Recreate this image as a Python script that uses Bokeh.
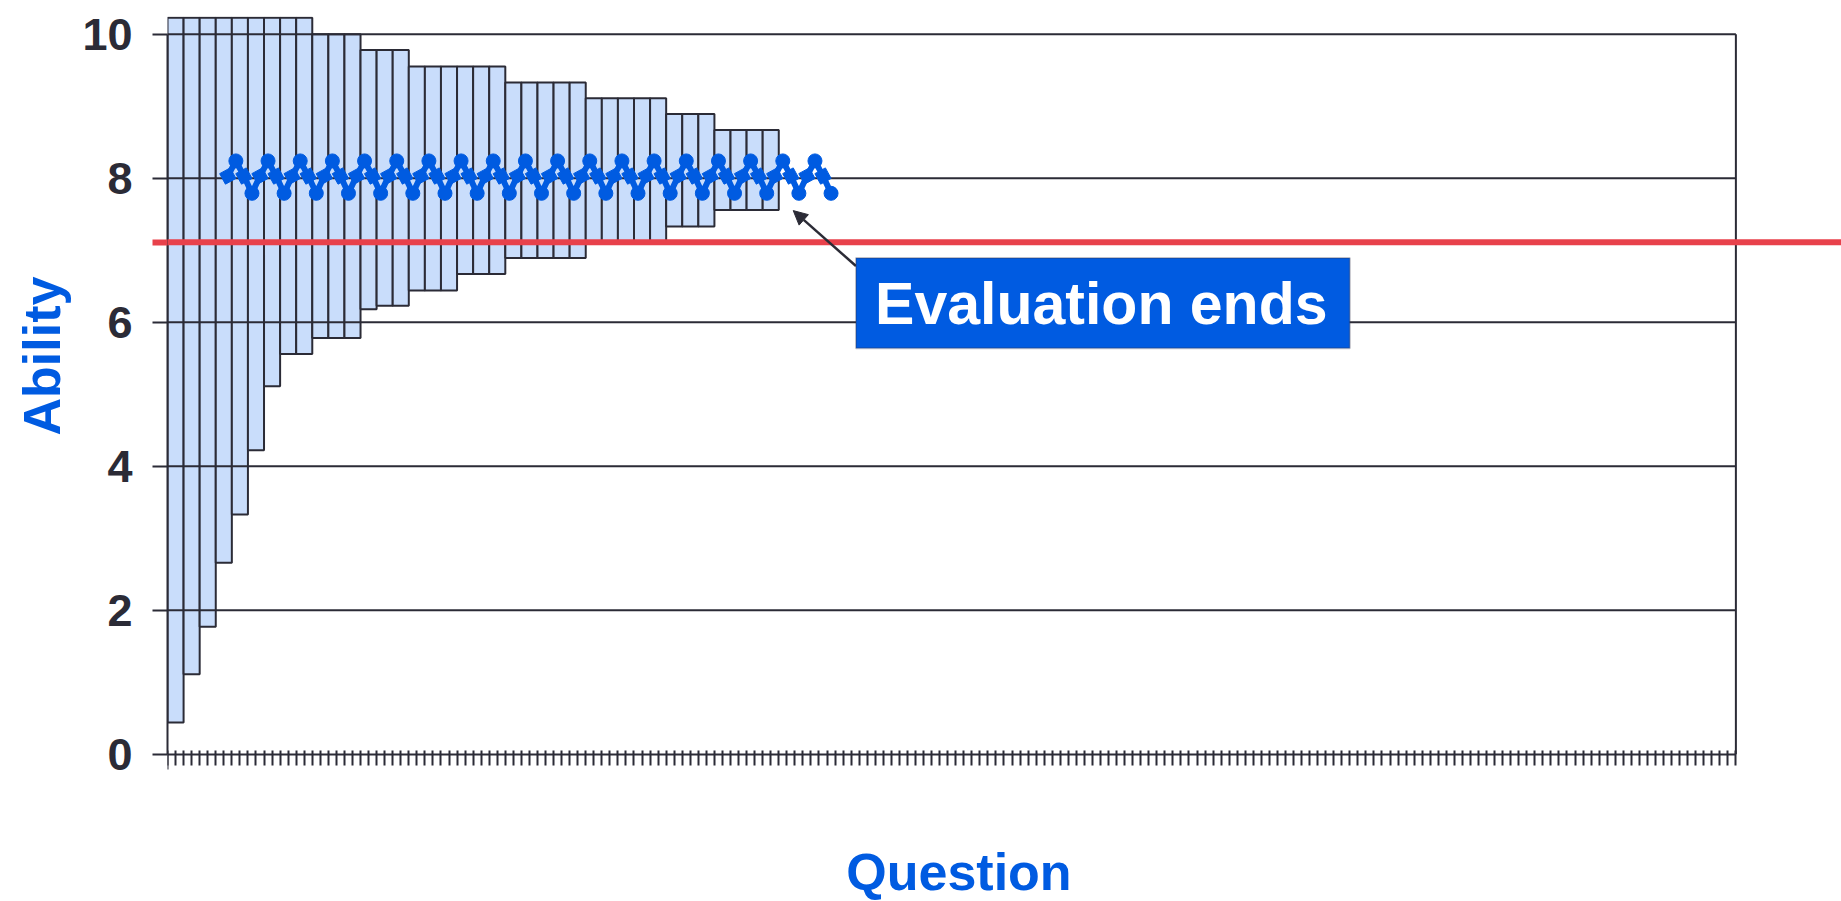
from bokeh.plotting import figure
from bokeh.models import (Range1d, FixedTicker, Span, Arrow, NormalHead, Title,
                          BoxAnnotation, Label, CustomJSTickFormatter, ColumnDataSource)
from bokeh.embed import file_html
from bokeh.resources import INLINE

# ---------------- data ----------------
n_ticks = 195                      # question tick marks on the x axis
y_ticks = [0, 2, 4, 6, 8, 10]
pass_mark = 7.11                   # red threshold line

# ability interval (lower / upper bound) after each question
bar_bottom = [0.44, 1.11, 1.77, 2.66, 3.33, 4.22, 5.11, 5.56, 5.56,
              5.78, 5.78, 5.78, 6.18, 6.23, 6.23, 6.44, 6.44, 6.44,
              6.67, 6.67, 6.67, 6.89, 6.89, 6.89, 6.89, 6.89,
              7.11, 7.11, 7.11, 7.11, 7.11, 7.33, 7.33, 7.33,
              7.56, 7.56, 7.56, 7.56]
bar_top = [10.23, 10.23, 10.23, 10.23, 10.23, 10.23, 10.23, 10.23, 10.23,
           10.0, 10.0, 10.0, 9.78, 9.78, 9.78, 9.55, 9.55, 9.55,
           9.55, 9.55, 9.55, 9.33, 9.33, 9.33, 9.33, 9.33,
           9.11, 9.11, 9.11, 9.11, 9.11, 8.89, 8.89, 8.89,
           8.67, 8.67, 8.67, 8.67]

# estimated ability per question (starting at question 7)
line_start = 7
line_values = [8.03, 8.24, 8.03, 7.79, 8.03, 8.24, 8.03, 7.79,
               8.03, 8.24, 8.03, 7.79, 8.03, 8.24, 8.03, 7.79,
               8.03, 8.24, 8.03, 7.79, 8.03, 8.24, 8.03, 7.79,
               8.03, 8.24, 8.03, 7.79, 8.03, 8.24, 8.03, 7.79,
               8.03, 8.24, 8.03, 7.79, 8.03, 8.24, 8.03, 7.79,
               8.03, 8.24, 8.03, 7.79, 8.03, 8.24, 8.03, 7.79,
               8.03, 8.24, 8.03, 7.79, 8.03, 8.24, 8.03, 7.79,
               8.03, 8.24, 8.03, 7.79, 8.03, 8.24, 8.03, 7.79,
               8.03, 8.24, 8.03, 7.79, 8.03, 8.24, 8.03, 7.79,
               8.03, 8.24, 8.03, 7.79]

# ---------------- styles ----------------
DARK = "#2B2B36"
BLUE = "#005BE1"
BAR_FILL = "#C9DDFB"
RED = "#E8414B"
FONT = "Liberation Sans"

bar_w = 2
bars = ColumnDataSource(dict(
    left=[i * bar_w for i in range(len(bar_top))],
    right=[(i + 1) * bar_w for i in range(len(bar_top))],
    bottom=bar_bottom, top=bar_top))

line_x = [line_start + i + 0.5 for i in range(len(line_values))]
mid_x = [x for i, x in enumerate(line_x) if i % 2 == 0]
mid_y = [v for i, v in enumerate(line_values) if i % 2 == 0]
ext_x = [x for i, x in enumerate(line_x) if i % 2 == 1]
ext_y = [v for i, v in enumerate(line_values) if i % 2 == 1]

W, H = 1841, 901
LEFT, TOP = 167, 16
unit_x, unit_y = 8.043, 72.0
zero_y = 753.7                       # canvas row of ability 0
p = figure(width=W, height=H, output_backend="svg", toolbar_location=None,
           x_axis_location="above",
           x_range=Range1d(0, (W - LEFT) / unit_x),
           y_range=Range1d(-(H - zero_y) / unit_y, (zero_y - TOP) / unit_y),
           min_border_left=LEFT, min_border_right=0, min_border_top=TOP,
           min_border_bottom=0)
p.outline_line_color = None
p.xgrid.visible = False
p.ygrid.visible = False
p.background_fill_color = "white"

# x axis, fixed at ability 0
xa = p.xaxis[0]
xa.fixed_location = 0
xa.ticker = FixedTicker(ticks=list(range(0, n_ticks + 1)), minor_ticks=[0])
xa.bounds = (0, n_ticks)
xa.major_tick_out = 4
xa.major_tick_in = 11
xa.major_tick_line_width = 2
xa.major_tick_line_color = DARK
xa.minor_tick_out = 0
xa.minor_tick_in = 15
xa.minor_tick_line_width = 2
xa.minor_tick_line_color = DARK
xa.axis_line_width = 2
xa.axis_line_color = DARK
xa.formatter = CustomJSTickFormatter(code="return ''")
xa.major_label_text_font_size = "1px"
xa.major_label_standoff = 0
xa.axis_label_standoff = 0

# y axis (red minor tick continues the pass-mark line outside the frame)
ya = p.yaxis[0]
ya.ticker = FixedTicker(ticks=y_ticks, minor_ticks=[pass_mark])
ya.bounds = (0, 10)
ya.major_tick_in = 0
ya.major_tick_out = 15
ya.major_tick_line_width = 2
ya.major_tick_line_color = DARK
ya.minor_tick_in = 0
ya.minor_tick_out = 15
ya.minor_tick_line_width = 6
ya.minor_tick_line_color = RED
ya.axis_line_width = 2
ya.axis_line_color = DARK
ya.major_label_standoff = 20
ya.axis_label_standoff = 0
ya.major_label_text_font = FONT
ya.major_label_text_font_style = "bold"
ya.major_label_text_font_size = "45px"
ya.major_label_text_color = DARK

# bars
p.quad(left="left", right="right", bottom="bottom", top="top", source=bars,
       fill_color=BAR_FILL, line_color=DARK, line_width=2)

# gridlines (drawn over bars) and right border
grid_y = [t for t in y_ticks if t > 0]
p.segment(x0=[0] * len(grid_y), x1=[n_ticks] * len(grid_y), y0=grid_y, y1=grid_y,
          line_color=DARK, line_width=2)
p.segment(x0=[n_ticks], x1=[n_ticks], y0=[0], y1=[y_ticks[-1]], line_color=DARK, line_width=2)

# pass mark
p.add_layout(Span(location=pass_mark, dimension="width", line_color=RED, line_width=6))

# ability estimate line
p.line(line_x, line_values, line_color=BLUE, line_width=6)
p.scatter(mid_x, mid_y, marker="square", size=12, angle=0.5, fill_color=BLUE, line_color=BLUE)
p.scatter(ext_x, ext_y, marker="circle", size=14, fill_color=BLUE, line_color=BLUE)

# annotation
p.add_layout(Arrow(end=NormalHead(size=14, fill_color=DARK, line_color=DARK),
                   x_start=85.6, y_start=6.78, x_end=77.8, y_end=7.55,
                   line_color=DARK, line_width=2.5))
p.add_layout(BoxAnnotation(left=85.6, right=147.0, bottom=5.637, top=6.892,
                           fill_color=BLUE, fill_alpha=1.0, line_color="#33334A",
                           line_width=2, level="overlay"))
p.add_layout(Label(x=116.1, y=6.247, text="Evaluation ends", text_align="center",
                   text_baseline="alphabetic", text_font=FONT, text_font_style="bold",
                   text_font_size="59px", text_color="white", level="overlay"))

# axis titles
p.add_layout(Label(x=98.4, y=-1.63, text="Question", text_align="center",
                   text_baseline="alphabetic", text_font=FONT, text_font_style="bold",
                   text_font_size="52px", text_color=BLUE))
p.add_layout(Title(text="Ability", align="left", offset=466, standoff=18,
                   text_font=FONT, text_font_style="bold", text_font_size="52px",
                   text_color=BLUE), "left")

open("out.html", "w").write(file_html(p, INLINE))
